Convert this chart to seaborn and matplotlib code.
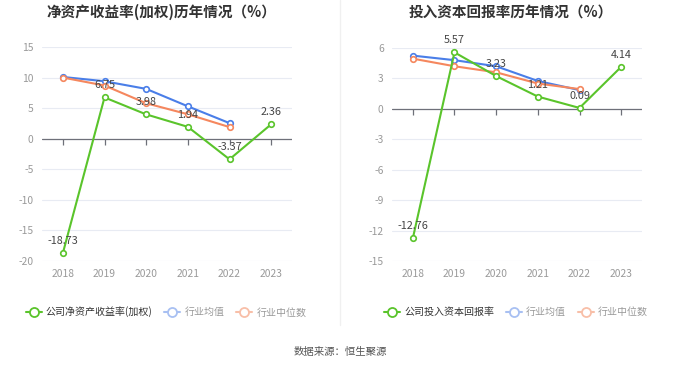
import seaborn as sns
import matplotlib.pyplot as plt
import pandas as pd
import numpy as np
from matplotlib.lines import Line2D

years = ['2018', '2019', '2020', '2021', '2022', '2023']

roe_company = [-18.73, 6.75, 3.98, 1.94, -3.37, 2.36]
roe_avg = [10.1, 9.4, 8.15, 5.3, 2.55, np.nan]
roe_median = [10.0, 8.7, 5.8, 4.0, 1.9, np.nan]

roic_company = [-12.76, 5.57, 3.23, 1.21, 0.09, 4.14]
roic_avg = [5.25, 4.8, 4.2, 2.75, 1.85, np.nan]
roic_median = [4.95, 4.2, 3.6, 2.5, 1.95, np.nan]

green = '#5ac42b'
blue = '#4a7ee8'
orange = '#f5875e'
blue_light = '#a8c0f2'
orange_light = '#f8bfa8'

sns.set_style('white')
plt.rcParams['font.family'] = ['Noto Sans CJK SC', 'DejaVu Sans']
plt.rcParams['axes.unicode_minus'] = False

fig = plt.figure(figsize=(6.8, 3.67), dpi=100)


def draw_panel(rect, company, avg, median, ylim, yticks, title, title_x, legend_name, legend_x):
    ax = fig.add_axes(rect)
    df = pd.DataFrame({'x': np.arange(len(years)), 'company': company,
                       'avg': avg, 'median': median})
    for col, color in [('avg', blue), ('median', orange), ('company', green)]:
        sns.lineplot(data=df, x='x', y=col, ax=ax, color=color, linewidth=1.5,
                     marker='o', markersize=4, markerfacecolor='white',
                     markeredgecolor=color, markeredgewidth=1.2, zorder=3)
    for i, v in enumerate(company):
        ax.annotate(f'{v:.2f}', (i, v), xytext=(0, 5), textcoords='offset points',
                    ha='center', va='bottom', fontsize=7.8, color='#444444', zorder=4)
    ax.set_xlim(-0.5, len(years) - 0.5)
    ax.set_ylim(*ylim)
    ax.set_yticks(yticks)
    ax.set_xticks(np.arange(len(years)))
    ax.set_xticklabels(years)
    ax.set_xlabel('')
    ax.set_ylabel('')
    for s in ax.spines.values():
        s.set_visible(False)
    ax.grid(axis='y', color='#e8ebf3', linewidth=0.8)
    ax.axhline(0, color='#6e7079', linewidth=0.9, zorder=2)
    ax.plot(np.arange(len(years)), np.zeros(len(years)), linestyle='none',
            marker=3, markersize=4.5, color='#6e7079', markeredgewidth=0.9, zorder=2)
    ax.tick_params(axis='both', length=0, labelsize=7.4, colors='#999999')
    ax.tick_params(axis='x', pad=6)
    ax.tick_params(axis='y', pad=6)
    fig.text(title_x, 1 - 12 / 367, title, ha='center', va='center',
             fontsize=10.5, fontweight='bold', color='#333333')
    handles = [
        Line2D([], [], color=green, marker='o', markersize=6.5, markerfacecolor='white',
               markeredgewidth=1.3, linewidth=1.5),
        Line2D([], [], color=blue_light, marker='o', markersize=6.5, markerfacecolor='white',
               markeredgewidth=1.3, linewidth=1.5),
        Line2D([], [], color=orange_light, marker='o', markersize=6.5, markerfacecolor='white',
               markeredgewidth=1.3, linewidth=1.5),
    ]
    leg = fig.legend(handles, [legend_name, '行业均值', '行业中位数'], loc='center',
                     bbox_to_anchor=(legend_x, 1 - 312 / 367), ncol=3, frameon=False,
                     fontsize=7.2, handlelength=1.6, handletextpad=0.4, columnspacing=1.2)
    for t, c in zip(leg.get_texts(), ['#333333', '#999999', '#999999']):
        t.set_color(c)
    return ax


draw_panel([42 / 680, 106 / 367, 250 / 680, 214 / 367], roe_company, roe_avg, roe_median,
           (-20, 15), [-20, -15, -10, -5, 0, 5, 10, 15],
           '净资产收益率(加权)历年情况（%）', 161 / 680, '公司净资产收益率(加权)', 166 / 680)
draw_panel([392 / 680, 106 / 367, 250 / 680, 213 / 367], roic_company, roic_avg, roic_median,
           (-15, 6), [-15, -12, -9, -6, -3, 0, 3, 6],
           '投入资本回报率历年情况（%）', 511 / 680, '公司投入资本回报率', 516 / 680)

fig.add_artist(Line2D([0.5, 0.5], [1, 1 - 325 / 367], color='#f0f0f0', linewidth=1))
fig.text(0.5, 1 - 352 / 367, '数据来源：恒生聚源', ha='center', va='center',
         fontsize=7.5, color='#555555')

plt.savefig('out.png', dpi=100)
